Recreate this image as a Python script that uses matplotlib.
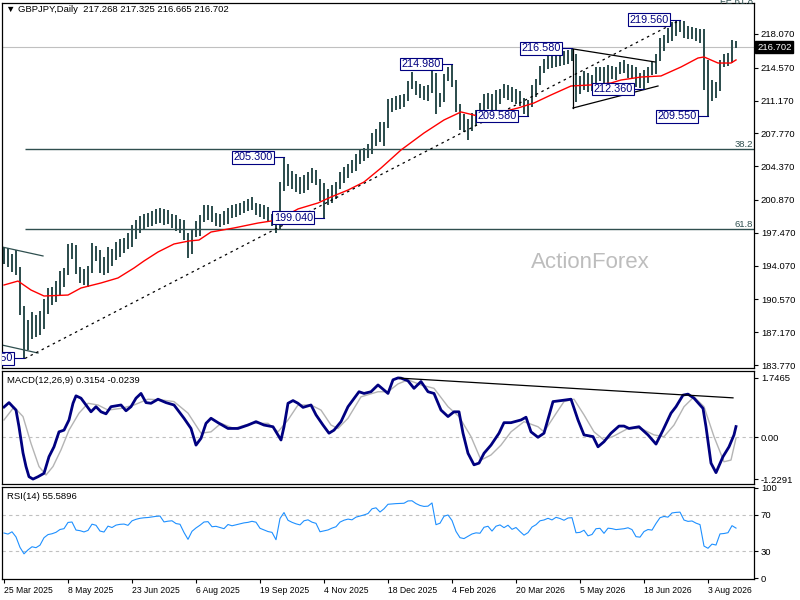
import numpy as np
import pandas as pd
import matplotlib
matplotlib.use("Agg")
from matplotlib import pyplot as plt

plt.rcParams['font.family'] = ['Liberation Sans', 'DejaVu Sans']

##daily bars
closes = [
    194.6, 194.3, 194.9, 193.5, 189.5, 185.6, 186.7, 187.6, 187.1, 187.8,
    190.1, 191.2, 191.5, 192.0, 193.0, 193.3, 195.8, 196.0, 193.6, 193.4,
    193.0, 193.5, 195.8, 195.5, 193.8, 193.5, 195.6, 195.2, 196.1, 196.4,
    196.5, 196.2, 197.8, 198.4, 198.8, 199.0, 199.1, 199.3, 199.5, 199.6,
    198.7, 198.9, 199.0, 198.6, 198.5, 197.2, 195.8, 197.4, 198.2, 198.9,
    199.8, 199.9, 199.0, 199.1, 198.9, 198.7, 199.6, 199.4, 199.6, 199.8,
    200.0, 200.1, 200.3, 200.2, 199.5, 199.3, 199.1, 199.0, 198.0, 202.0,
    204.2, 202.8, 202.4, 202.1, 201.9, 203.1, 203.4, 203.0, 202.8, 201.2,
    201.4, 201.6, 202.0, 202.3, 203.4, 203.9, 204.2, 204.1, 204.8, 205.1,
    205.4, 205.8, 207.4, 207.8, 207.3, 208.5, 210.8, 211.0, 211.2, 211.3,
    211.4, 212.8, 212.9, 212.6, 212.4, 212.3, 212.4, 213.8, 210.8, 211.2,
    213.5, 214.0, 213.0, 210.5, 208.6, 208.3, 208.9, 209.5, 209.8, 209.7,
    211.3, 211.6, 210.5, 211.9, 212.3, 211.7, 212.4, 211.5, 212.0, 211.1,
    210.2, 210.8, 212.3, 213.0, 214.3, 214.6, 215.2, 214.9, 215.8, 215.6,
    215.3, 216.0, 216.1, 213.2, 213.3, 213.8, 212.5, 212.8, 214.2, 214.3,
    213.2, 214.5, 214.4, 214.2, 214.3, 214.4, 214.6, 214.3, 213.0, 212.9,
    213.9, 214.3, 214.2, 215.6, 217.2, 217.6, 217.5, 218.9, 219.1, 219.2,
    218.1, 217.9, 218.0, 217.7, 217.5, 212.8, 212.0, 212.8, 212.5, 215.0,
    215.1, 215.3, 217.268, 216.702]

highs = [
    196.0, 195.9, 195.3, 195.7, 193.9, 189.9, 188.4, 189.3, 188.9, 189.4,
    190.6, 191.7, 191.9, 192.5, 193.5, 193.8, 196.3, 196.4, 196.2, 193.9,
    193.7, 194.0, 196.4, 196.1, 195.7, 195.0, 196.0, 195.8, 196.5, 196.8,
    196.9, 197.4, 198.3, 198.8, 199.2, 199.4, 199.5, 199.7, 199.9, 200.0,
    199.9, 199.8, 199.4, 199.3, 198.9, 198.8, 197.5, 197.9, 198.7, 199.3,
    200.3, 200.3, 200.2, 199.5, 199.4, 199.7, 200.0, 200.4, 200.5, 200.6,
    200.8, 201.0, 201.2, 200.6, 200.5, 200.3, 200.1, 199.4, 199.3, 202.7,
    205.3, 204.6, 203.9, 203.6, 203.3, 203.5, 203.8, 204.2, 204.0, 203.0,
    202.6, 202.0, 202.4, 202.7, 203.8, 204.3, 204.6, 205.0, 205.6, 206.0,
    206.3, 206.7, 207.8, 208.2, 208.9, 208.9, 211.3, 211.4, 211.6, 211.7,
    211.8, 213.2, 214.1, 213.2, 212.9, 212.7, 212.8, 214.6, 214.0, 212.0,
    213.9, 214.7, 214.98, 213.3, 210.8, 209.8, 209.3, 209.9, 210.2, 210.9,
    211.8, 212.0, 211.9, 212.3, 212.4, 212.9, 212.8, 212.6, 212.4, 212.2,
    211.4, 211.2, 212.8, 213.4, 214.8, 215.5, 215.9, 216.0, 216.2, 216.0,
    216.3, 216.4, 216.58, 216.0, 213.7, 214.2, 214.0, 213.8, 214.6, 214.7,
    214.6, 214.9, 214.8, 214.7, 215.2, 215.4, 215.0, 214.9, 214.6, 214.0,
    214.3, 214.7, 215.2, 216.0, 217.7, 218.0, 218.7, 219.3, 219.5, 219.56,
    219.4, 218.9, 218.8, 218.7, 218.6, 218.6, 215.4, 213.3, 213.1, 215.4,
    216.0, 216.1, 217.4, 217.325]

lows = [
    194.2, 193.9, 193.4, 193.1, 189.0, 184.45, 185.3, 186.5, 186.7, 186.9,
    187.5, 189.1, 190.0, 190.3, 191.0, 191.9, 193.1, 194.8, 193.2, 192.3,
    192.1, 191.9, 193.3, 194.5, 193.3, 193.1, 193.3, 194.0, 194.6, 195.0,
    195.4, 195.8, 196.0, 196.8, 197.5, 197.8, 198.1, 198.2, 198.4, 198.5,
    198.3, 198.4, 198.0, 197.7, 197.5, 196.7, 194.9, 195.3, 197.0, 197.1,
    198.6, 198.8, 198.6, 198.2, 198.1, 198.3, 198.4, 199.0, 199.1, 199.3,
    199.5, 199.7, 199.8, 199.3, 199.1, 198.9, 198.7, 198.2, 197.5, 197.8,
    201.8, 202.3, 202.0, 201.7, 201.5, 201.6, 201.9, 202.6, 202.4, 200.8,
    199.04, 200.4, 200.6, 201.0, 202.0, 202.6, 203.1, 203.7, 203.9, 204.6,
    204.9, 205.2, 205.6, 206.5, 206.9, 206.5, 208.3, 210.0, 210.2, 210.3,
    210.5, 211.1, 212.4, 211.7, 211.4, 211.2, 211.1, 212.0, 209.8, 210.5,
    211.0, 213.2, 212.6, 210.0, 208.1, 207.9, 207.1, 208.0, 208.5, 209.3,
    209.4, 210.3, 210.1, 210.2, 210.8, 211.4, 211.2, 211.0, 210.8, 210.6,
    209.8, 209.58, 210.5, 211.5, 212.8, 214.0, 214.4, 214.5, 214.6, 214.8,
    214.9, 215.0, 215.3, 211.0, 211.9, 212.3, 212.1, 212.2, 212.6, 213.2,
    212.8, 212.9, 213.4, 213.3, 213.9, 214.0, 213.5, 213.4, 212.6, 212.5,
    212.36, 213.0, 213.8, 213.9, 215.3, 216.3, 217.1, 217.3, 217.9, 218.3,
    217.7, 217.5, 217.6, 217.3, 217.1, 212.3, 209.55, 211.1, 211.4, 212.2,
    214.6, 214.8, 215.1, 216.665]

##red moving average, read at a few bars
ma_bar = [0, 3.5, 6.75, 10, 16, 19.25, 24.25, 28.5, 32.5, 35,
          38.5, 42.5, 46.25, 48.75, 51.75, 57.5, 63.5, 68.5, 73.5, 78.5,
          81.75, 86, 90, 94.25, 99.25, 105, 110, 114.25, 118.5, 123.5,
          128.5, 132.5, 136.75, 141.75, 146.75, 151.75, 154.25, 159.25, 164.25, 169.25,
          173.5, 175, 178.5, 181.75, 183]
ma_val = [192.06, 192.47, 191.54, 190.92, 191.02, 191.75, 192.27, 192.79, 193.82, 194.55,
          195.48, 196.31, 196.62, 196.72, 197.55, 197.97, 198.48, 198.80, 199.94, 200.56,
          201.18, 201.90, 202.73, 204.18, 206.05, 207.81, 209.16, 209.99, 209.57, 209.88,
          210.40, 210.92, 211.75, 212.68, 212.79, 212.99, 213.30, 213.61, 213.72, 214.65,
          215.58, 215.69, 215.06, 215.06, 215.38]

##MACD(12,26,9) main and signal
macd_bar = [0, 1.25, 3, 3.75, 4.75, 5.5, 6.25, 7.25, 8.5, 10,
            11.25, 12.5, 13.75, 15, 16.25, 17.25, 18, 19.25, 20.5, 21.75,
            23, 24.25, 25.5, 26.75, 29.25, 30.5, 31.75, 33, 34.25, 35.5,
            36.75, 38.5, 40.5, 42.5, 45, 46.75, 48, 49.25, 50.5, 51.75,
            53.5, 56, 58.5, 61, 63, 65, 67.25, 69.25, 70, 71,
            72.25, 73.5, 74.75, 76.75, 78, 79.75, 81.25, 82.5, 84.25, 86,
            88.75, 90, 91.75, 93.5, 96, 97.25, 98.5, 99.25, 101, 102.5,
            104.25, 106, 107.5, 109.25, 111, 112.5, 113.75, 114.75, 116, 117.5,
            118.75, 120, 121.75, 123.75, 125, 126.75, 129.25, 130.5, 131.75, 133.5,
            135, 137.25, 139.25, 141.75, 143.5, 145, 147.25, 148.5, 150, 151.75,
            153.75, 155, 156.25, 158.75, 161, 163, 164.75, 166.75, 168, 169.75,
            171, 172.5, 174.75, 175.5, 176.75, 178, 179.75, 181.25, 182.5, 183]
macd_val = [0.89, 1.02, 0.80, 0.31, -0.46, -0.86, -1.16, -1.2291, -1.16, -1.06,
            -0.57, -0.28, 0.16, 0.21, 0.51, 1.00, 1.22, 1.15, 0.95, 0.75,
            0.90, 0.75, 0.69, 0.90, 0.95, 0.78, 0.90, 1.15, 1.29, 1.02,
            1.00, 1.12, 1.02, 0.95, 0.56, 0.26, -0.23, -0.03, 0.41, 0.56,
            0.43, 0.26, 0.26, 0.36, 0.46, 0.36, 0.31, -0.08, 0.31, 1.00,
            1.08, 1.00, 0.88, 0.95, 0.66, 0.36, 0.12, 0.21, 0.46, 0.90,
            1.34, 1.29, 1.34, 1.54, 1.29, 1.69, 1.7465, 1.74, 1.66, 1.44,
            1.64, 1.34, 1.29, 0.80, 0.61, 0.75, 0.75, 0.12, -0.47, -0.81,
            -0.76, -0.47, -0.23, 0.12, 0.43, 0.43, 0.51, 0.59, 0.16, 0.00,
            0.12, 1.05, 1.08, 1.12, 0.51, 0.07, 0.02, -0.28, -0.13, 0.12,
            0.33, 0.33, 0.26, 0.31, 0.07, -0.20, 0.21, 0.71, 0.90, 1.24,
            1.27, 1.15, 0.85, 0.31, -0.76, -1.04, -0.57, -0.28, 0.07, 0.3154]
sig_bar = [0, 2.5, 4.75, 6.75, 8.75, 10.5, 12.25, 14.25, 16.25, 18.75,
           21, 23.5, 26, 29.25, 32.5, 36, 39.25, 42.5, 46, 49.25,
           51.75, 54.25, 57.5, 61.75, 66, 68.5, 71, 73.5, 76.75, 79.25,
           81.75, 83.5, 86, 89.25, 93.5, 96, 98.5, 101, 104.25, 107.5,
           111, 113.75, 116.75, 119.25, 121.75, 124.25, 126.75, 130, 133.5, 135,
           137.5, 140, 142.5, 145, 147.5, 150, 152.5, 156, 159.25, 162.5,
           165, 167.5, 170, 172.5, 175, 177.5, 180, 181.75, 183]
sig_val = [0.51, 0.89, 0.61, -0.18, -0.86, -1.11, -0.86, -0.37, 0.21, 0.71,
           1.00, 0.95, 0.80, 0.85, 0.95, 1.12, 1.10, 1.05, 0.71, 0.12,
           0.16, 0.41, 0.26, 0.41, 0.41, 0.16, 0.51, 0.95, 0.95, 0.80,
           0.36, 0.26, 0.56, 1.19, 1.34, 1.34, 1.57, 1.69, 1.54, 1.44,
           0.90, 0.61, 0.02, -0.67, -0.52, -0.23, 0.16, 0.46, 0.31, 0.16,
           0.61, 1.05, 1.12, 0.66, 0.16, -0.08, 0.04, 0.26, 0.26, 0.07,
           0.02, 0.36, 0.90, 1.19, 0.90, 0.02, -0.72, -0.67, -0.0239]

##labelled swing points (bar, price)
swing_bar = [5, 70, 80, 112, 131, 142, 160, 169, 176]
swing_px = [184.45, 205.30, 199.04, 214.98, 209.58, 216.58, 212.36, 219.56, 209.55]

##drawn objects
fib_lo, fib_hi = 184.45, 219.56
trend_bar, trend_px = [5.25, 169], [184.45, 219.5]
tri_up_bar, tri_up_px = [142.25, 162.75], [216.52, 215.17]
tri_lo_bar, tri_lo_px = [142.25, 163.5], [210.40, 212.68]
old_up_bar, old_up_px = [-0.5, 9.75], [196.0, 195.07]
old_lo_bar, old_lo_px = [-0.5, 8.5], [185.84, 185.01]
macd_tl_bar, macd_tl_val = [99, 182.25], [1.74, 1.16]

price_ticks = [218.07, 214.57, 211.17, 207.77, 204.37, 200.87, 197.47, 194.07, 190.57, 187.17, 183.77]
tick_bars = [0, 16, 32, 48, 64, 80, 96, 112, 128, 144, 160, 176]
date_labels = ['25 Mar 2025', '8 May 2025', '23 Jun 2025', '6 Aug 2025', '19 Sep 2025', '4 Nov 2025',
               '18 Dec 2025', '4 Feb 2026', '20 Mar 2026', '5 May 2026', '18 Jun 2026', '3 Aug 2026']
last_price = 216.702

n = len(closes)
bars = np.arange(n)

##RSI(14), Wilder smoothing, started from an even gain/loss state
diffs = np.diff(np.array(closes), prepend=closes[0])
au, ad = 0.5, 0.5
rsi = []
for dd in diffs:
    au = (13*au + max(dd, 0))/14
    ad = (13*ad + max(-dd, 0))/14
    rsi.append(100*au/(au+ad))

bar_col = '#2F4F4F'
navy = '#000080'

fig = plt.figure(figsize=(8, 6), dpi=100)
L, W = 2/800, 752/800
ax = fig.add_axes([L, 1-368/600, W, 365/600])
axm = fig.add_axes([L, 1-484/600, W, 113/600])
axr = fig.add_axes([L, 1-579/600, W, 92/600])

for a in (ax, axm, axr):
    a.set_xlim(-0.5, 187.5)
    a.yaxis.tick_right()
    a.tick_params(axis='y', direction='out', length=3, labelsize=6.8, pad=2, width=0.8)
    for s in a.spines.values():
        s.set_linewidth(0.9)
        s.set_color('black')
ax.set_xticks([])
axm.set_xticks([])

##main window
ax.set_ylim(183.46, 221.28)
ax.set_yticks(price_ticks)
ax.set_yticklabels(['%.3f' % v for v in price_ticks])
ax.axhline(last_price, color='#C0C0C0', lw=0.8, zorder=0)
lvl382 = fib_hi - 0.382*(fib_hi-fib_lo)
lvl618 = fib_hi - 0.618*(fib_hi-fib_lo)
ax.hlines([lvl382, lvl618], 5.25, 187.5, color=bar_col, lw=1)
ax.text(187.3, lvl382, '38.2', ha='right', va='bottom', fontsize=6.8, color=bar_col)
ax.text(187.3, lvl618, '61.8', ha='right', va='bottom', fontsize=6.8, color=bar_col)
ax.text(187.3, 221.0, 'FE 61.8', ha='right', va='bottom', fontsize=6.8, color=bar_col, clip_on=False)

ax.text(0.782, 0.29, 'ActionForex', transform=ax.transAxes, fontsize=16, color='#BDBDBD',
        ha='center', va='center', zorder=0)

ax.vlines(bars, lows, highs, color=bar_col, lw=1.44, antialiased=False, zorder=2)
ax.plot(ma_bar, ma_val, color='red', lw=1, zorder=3)

ax.plot(trend_bar, trend_px, color='black', lw=0.9, ls=(0, (2, 3)), zorder=3)
ax.plot(tri_up_bar, tri_up_px, color='black', lw=0.9, zorder=3)
ax.plot(tri_lo_bar, tri_lo_px, color='black', lw=0.9, zorder=3)
ax.plot([tri_up_bar[0], tri_lo_bar[0]], [tri_up_px[0], tri_lo_px[0]], color='black', lw=0.9, zorder=3)
ax.plot(old_up_bar, old_up_px, color=bar_col, lw=0.9)
ax.plot(old_lo_bar, old_lo_px, color=bar_col, lw=0.9)

for b, p in zip(swing_bar, swing_px):
    ax.plot([b-2.5, b], [p, p], color=navy, lw=0.8, zorder=4)
    ax.text(b-2.8, p, '%.3f' % p, ha='right', va='center', fontsize=7.8, color=navy, zorder=5,
            clip_on=True, bbox=dict(boxstyle='square,pad=0.12', fc='white', ec=navy, lw=0.8))

ax.text(1.004, last_price, '%.3f' % last_price, transform=ax.get_yaxis_transform(), ha='left',
        va='center', fontsize=6.8, color='white', zorder=6,
        bbox=dict(boxstyle='square,pad=0.18', fc='black', ec='black'))
ax.text(0.005, 0.981, '\u25bc GBPJPY,Daily  217.268 217.325 216.665 216.702', transform=ax.transAxes,
        ha='left', va='center', fontsize=6.8)

##MACD window
axm.set_ylim(-1.374, 1.95)
axm.set_yticks([1.7465, 0, -1.2291])
axm.set_yticklabels(['1.7465', '0.00', '-1.2291'])
axm.axhline(0, color='#C0C0C0', lw=0.8, ls=(0, (3, 3)))
axm.plot(sig_bar, sig_val, color='#B4B4B4', lw=1)
axm.plot(macd_bar, macd_val, color=navy, lw=2)
axm.plot(macd_tl_bar, macd_tl_val, color='black', lw=0.9)
axm.text(0.007, 0.92, 'MACD(12,26,9) 0.3154 -0.0239', transform=axm.transAxes, ha='left', va='center', fontsize=6.8)

##RSI window
axr.set_ylim(-1.1, 101.1)
axr.set_yticks([100, 70, 30, 0])
axr.axhline(70, color='#C0C0C0', lw=0.8, ls=(0, (3, 3)))
axr.axhline(30, color='#C0C0C0', lw=0.8, ls=(0, (3, 3)))
axr.plot(bars, rsi, color='#1E90FF', lw=0.8)
axr.text(0.007, 0.90, 'RSI(14) 55.5896', transform=axr.transAxes, ha='left', va='center', fontsize=6.8)
axr.set_xticks(tick_bars)
axr.set_xticklabels(date_labels, ha='left', fontsize=6.2)
axr.tick_params(axis='x', direction='out', length=3, pad=2, width=0.8)

fig.savefig('out.png', dpi=100)
